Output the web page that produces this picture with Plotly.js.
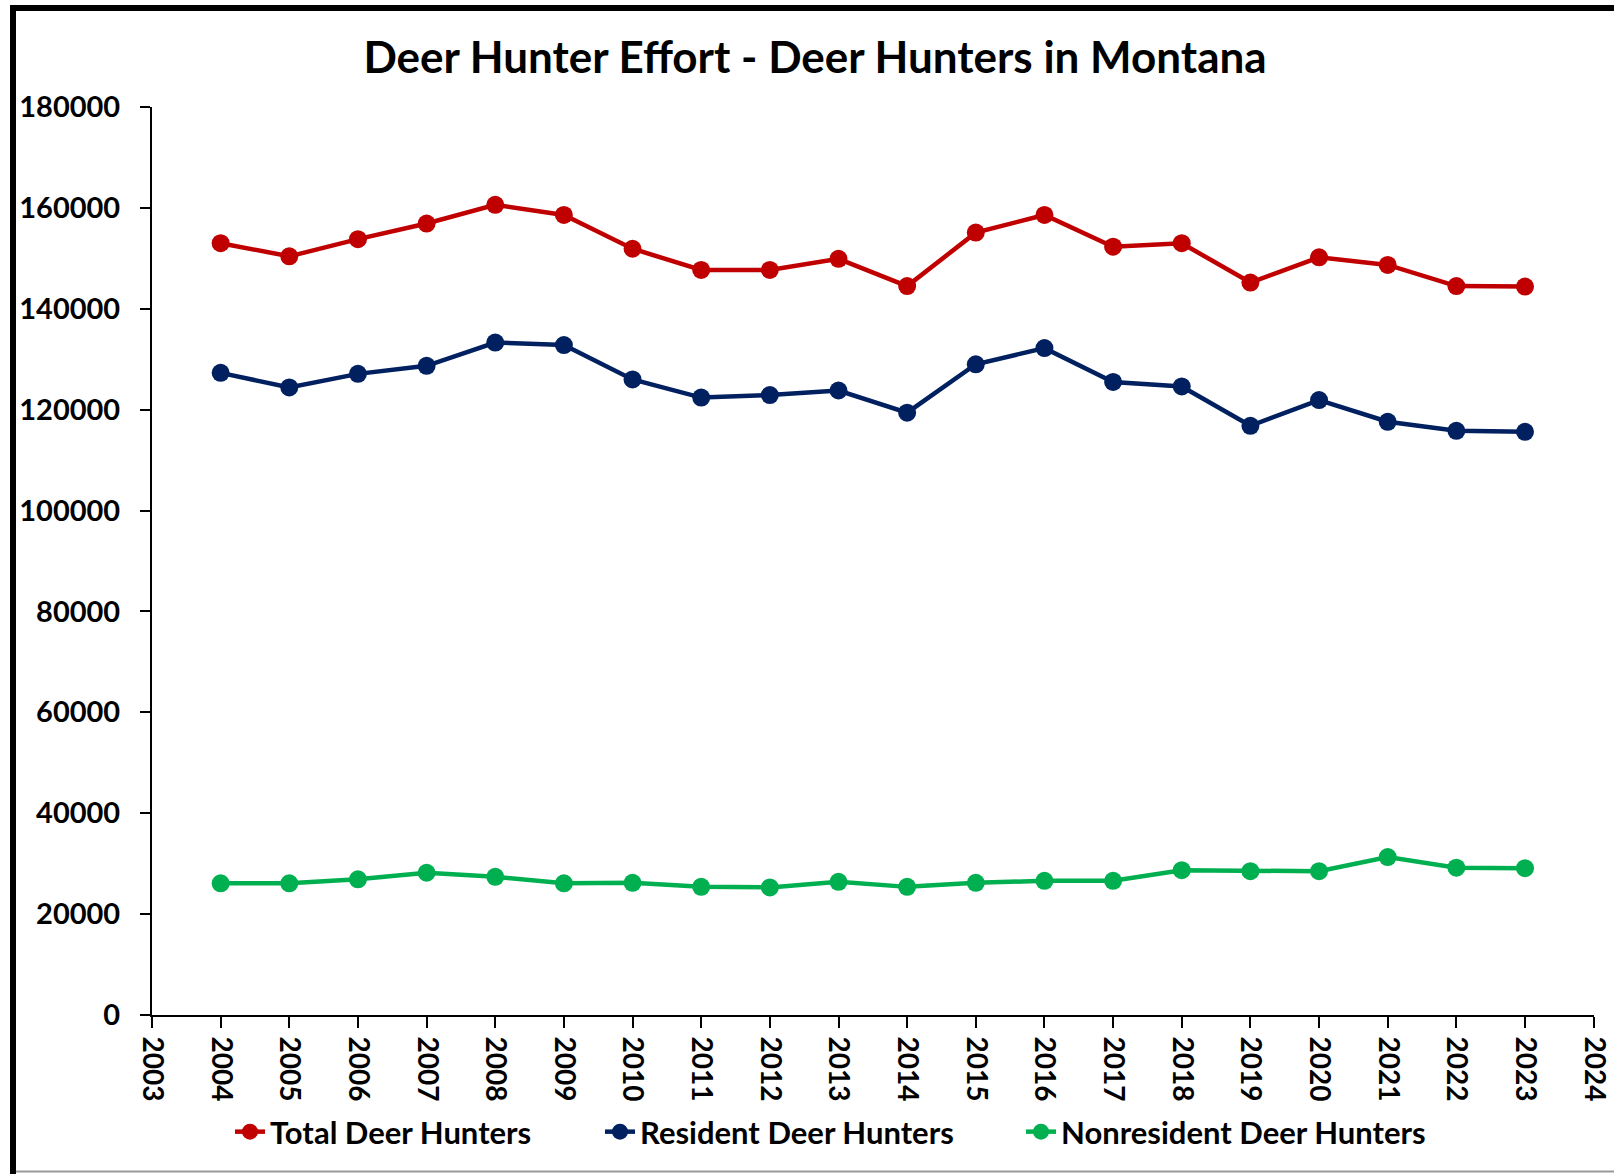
<!DOCTYPE html>
<html>
<head>
<meta charset="utf-8">
<script src="https://cdn.plot.ly/plotly-3.0.1.min.js"></script>
<style>
  html, body { margin: 0; padding: 0; background: #fff; }
  #chart { width: 1614px; height: 1174px; }
</style>
</head>
<body>
<div id="chart"></div>
<script>
var years = [2004, 2005, 2006, 2007, 2008, 2009, 2010, 2011, 2012, 2013,
             2014, 2015, 2016, 2017, 2018, 2019, 2020, 2021, 2022, 2023];

var totalHunters = [153000, 150400, 153800, 156900, 160600, 158600, 151900, 147700, 147700, 149900,
                    144500, 155100, 158600, 152300, 153000, 145200, 150200, 148700, 144500, 144400];

var residentHunters = [127300, 124400, 127100, 128700, 133300, 132800, 126000, 122400, 122900, 123800,
                       119400, 129000, 132200, 125500, 124600, 116800, 121900, 117600, 115800, 115600];

var nonresidentHunters = [26100, 26100, 26900, 28200, 27400, 26100, 26200, 25400, 25300, 26400,
                          25400, 26200, 26600, 26600, 28700, 28500, 28500, 31300, 29200, 29100];

var xTicks = [2003, 2004, 2005, 2006, 2007, 2008, 2009, 2010, 2011, 2012, 2013,
              2014, 2015, 2016, 2017, 2018, 2019, 2020, 2021, 2022, 2023, 2024];

var seriesNames = ['Total Deer Hunters', 'Resident Deer Hunters', 'Nonresident Deer Hunters'];
var seriesColors = ['#C00000', '#002060', '#00B050'];

// plot area in page pixels, used to place the frame and legends
var plotL = 152, plotR = 1594, plotT = 107, plotB = 1015;
function px(x) { return (x - plotL) / (plotR - plotL); }
function py(y) { return (plotB - y) / (plotB - plotT); }

var font = { family: 'Lato, "Open Sans", sans-serif', color: '#000000', weight: 700 };

function makeTrace(values, i) {
  return {
    x: years,
    y: values,
    mode: 'lines+markers',
    name: seriesNames[i],
    legend: i === 0 ? 'legend' : 'legend' + (i + 1),
    line: { color: seriesColors[i], width: 4.5 },
    marker: { color: seriesColors[i], size: 18 }
  };
}

var data = [
  makeTrace(totalHunters, 0),
  makeTrace(residentHunters, 1),
  makeTrace(nonresidentHunters, 2)
];

function legendAt(xpix) {
  return {
    orientation: 'h',
    x: px(xpix), xanchor: 'left',
    y: py(1132), yanchor: 'middle',
    bgcolor: 'rgba(0,0,0,0)',
    font: { family: font.family, size: 31, color: '#000', weight: 700 }
  };
}

var layout = {
  width: 1614,
  height: 1174,
  margin: { l: plotL, r: 1614 - plotR, t: plotT, b: 1174 - plotB },
  paper_bgcolor: '#ffffff',
  plot_bgcolor: '#ffffff',
  showlegend: true,
  font: font,
  title: {
    text: 'Deer Hunter Effort - Deer Hunters in Montana',
    font: { family: font.family, size: 44, color: '#000', weight: 700 },
    xref: 'paper', x: px(815), xanchor: 'center',
    yref: 'container', y: 1 - 58 / 1174, yanchor: 'middle'
  },
  xaxis: {
    range: [2003, 2024.005],
    tickmode: 'array',
    tickvals: xTicks,
    ticktext: xTicks.map(String),
    tickangle: 90,
    ticklabeloverflow: 'allow',
    showgrid: false,
    zeroline: false,
    showline: true,
    linecolor: '#000',
    linewidth: 2,
    ticks: 'outside',
    ticklen: 11,
    tickwidth: 2,
    tickcolor: '#000',
    ticklabelstandoff: 3,
    tickfont: { family: font.family, size: 28, color: '#000', weight: 700 }
  },
  yaxis: {
    range: [0, 180000],
    dtick: 20000,
    tickformat: 'd',
    showgrid: false,
    zeroline: false,
    showline: true,
    linecolor: '#000',
    linewidth: 2,
    ticks: 'outside',
    ticklen: 10,
    tickwidth: 2,
    tickcolor: '#000',
    ticklabelstandoff: 14,
    tickfont: { family: font.family, size: 29, color: '#000', weight: 700 }
  },
  legend: legendAt(230),
  legend2: legendAt(600),
  legend3: legendAt(1021),
  shapes: [
    { type: 'rect', xref: 'paper', yref: 'paper', layer: 'above',
      x0: px(10), x1: px(1614), y0: py(5), y1: py(11),
      fillcolor: '#000', line: { width: 0 } },
    { type: 'rect', xref: 'paper', yref: 'paper', layer: 'above',
      x0: px(10), x1: px(16), y0: py(5), y1: py(1174),
      fillcolor: '#000', line: { width: 0 } },
    { type: 'line', xref: 'paper', yref: 'paper', layer: 'above',
      x0: px(16), x1: px(1614), y0: py(1171.5), y1: py(1171.5),
      line: { color: '#999', width: 2 } }
  ]
};

Plotly.newPlot('chart', data, layout, { displayModeBar: false, staticPlot: true });
</script>
</body>
</html>
